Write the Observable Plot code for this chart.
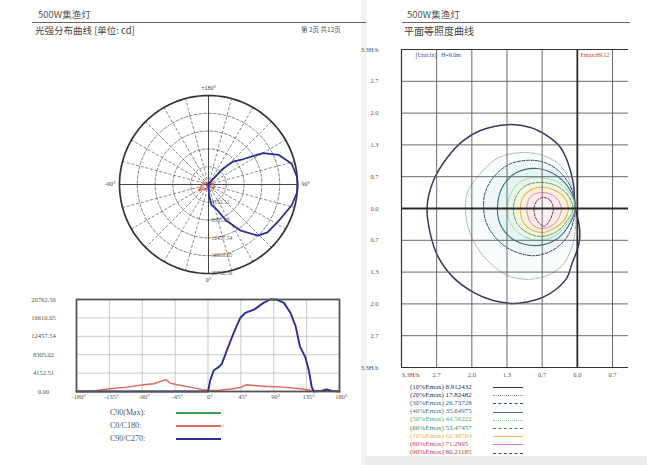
<!DOCTYPE html>
<html><head><meta charset="utf-8">
<script src="https://cdn.jsdelivr.net/npm/d3@7"></script>
<script src="https://cdn.jsdelivr.net/npm/@observablehq/plot@0.6"></script>
<style>
body{margin:0;background:#fff;}
#page{position:relative;width:647px;height:465px;overflow:hidden;background:#fff;font-family:"Liberation Serif",serif;color:#444;}
.abs{position:absolute;white-space:nowrap;line-height:1;}
.cjk{font-family:"Noto Sans CJK SC","Liberation Serif",serif;}
</style></head><body><div id="page"></div>
<script>
// ---------- DATA ----------
const angleTicks = [-180,-135,-90,-45,0,45,90,135,180];
const intensityTicks = [0, 4152.51, 8305.02, 12457.54, 16610.05, 20762.56];
const intensityLabels = ["0.00","4152.51","8305.02","12457.54","16610.05","20762.56"];

const c90c270Angles = [-180,-90,-30,0,3,8,15,19,26,35,44,51,63,76,85,90,95,104,113,120,126,133,138,142,145,155,162,170,180];
const c90c270Values = [0,0,0,0,2510,4790,5550,6310,9350,13160,16580,17720,18480,20000,20760,20762.56,20700,20000,17720,14680,10115,7830,4790,990,0,150,450,150,0];

const c0c180Angles = [-180,-165,-152,-134,-111,-88,-74,-61,-57,-52,-42,-24,-6,1,12,35,45,53,63,81,104,126,142,160,180];
const c0c180Values = [0,60,230,610,990,1520,1750,2510,2660,1900,1520,990,380,230,230,610,990,1520,1370,1140,990,610,230,80,0];

const seriesNames = ["C90(Max):","C0/C180:","C90/C270:"];

// isolux plane (units H/h)
const isoGridX = [-3.3,-2.64,-1.98,-1.32,-0.66,0,0.66];
const isoGridXLabels = ["3.3H/h","2.7","2.0","1.3","0.7","0.0","0.7"];
const isoGridY = [3.3,2.64,1.98,1.32,0.66,0,-0.66,-1.32,-1.98,-2.64,-3.3];
const isoGridYLabels = ["3.3H/h","2.7","2.0","1.3","0.7","0.0","0.7","1.3","2.0","2.7","3.3H/h"];

const iso10 = [[-2.82,0.03],[-2.70,0.58],[-2.44,1.06],[-2.14,1.41],[-1.82,1.62],[-1.30,1.74],[-0.88,1.68],[-0.57,1.51],[-0.32,1.27],[-0.17,0.93],[-0.075,0.52],[-0.04,0.03],[0.04,-0.39],[0.04,-0.66],[-0.006,-0.87],[-0.10,-1.14],[-0.19,-1.43],[-0.38,-1.66],[-0.64,-1.84],[-0.94,-1.94],[-1.20,-1.97],[-1.58,-1.91],[-1.95,-1.74],[-2.33,-1.43],[-2.61,-1.01],[-2.76,-0.52]];
const iso20 = [[-0.04,0.02],[-0.11,0.48],[-0.32,0.89],[-0.64,1.10],[-1.07,1.16],[-1.50,1.04],[-1.86,0.68],[-2.06,0.33],[-2.10,0.02],[-2.05,-0.39],[-1.88,-0.81],[-1.63,-1.14],[-1.31,-1.39],[-0.94,-1.47],[-0.56,-1.39],[-0.28,-1.18],[-0.11,-0.83],[-0.04,-0.46]];
const iso30 = [[-0.04,0.02],[-0.11,0.41],[-0.32,0.75],[-0.60,0.95],[-0.94,1.00],[-1.29,0.91],[-1.58,0.64],[-1.73,0.33],[-1.76,0.02],[-1.71,-0.29],[-1.54,-0.60],[-1.26,-0.85],[-0.83,-0.98],[-0.47,-0.87],[-0.21,-0.62],[-0.08,-0.29]];
const iso40 = [[-0.04,0.02],[-0.13,0.37],[-0.36,0.66],[-0.75,0.83],[-1.13,0.75],[-1.39,0.48],[-1.50,0.02],[-1.43,-0.37],[-1.18,-0.66],[-0.75,-0.77],[-0.39,-0.64],[-0.17,-0.37]];
const iso50 = [[-0.04,0.02],[-0.15,0.33],[-0.39,0.56],[-0.71,0.64],[-1.03,0.58],[-1.24,0.33],[-1.31,0],[-1.24,-0.33],[-1.03,-0.56],[-0.69,-0.66],[-0.38,-0.54],[-0.17,-0.29]];
const iso60 = [[-0.08,0],[-0.19,0.29],[-0.41,0.48],[-0.69,0.54],[-0.96,0.48],[-1.14,0.27],[-1.20,-0.02],[-1.13,-0.31],[-0.94,-0.50],[-0.68,-0.58],[-0.39,-0.48],[-0.19,-0.25]];
const iso70 = [[-0.17,0],[-0.26,0.25],[-0.45,0.39],[-0.68,0.44],[-0.90,0.37],[-1.03,0.21],[-1.07,-0.04],[-1.01,-0.29],[-0.86,-0.44],[-0.66,-0.50],[-0.43,-0.41],[-0.24,-0.23]];
const iso80 = [[-0.30,0],[-0.38,0.21],[-0.53,0.31],[-0.69,0.33],[-0.86,0.27],[-0.94,0.10],[-0.94,-0.10],[-0.88,-0.29],[-0.73,-0.41],[-0.54,-0.39],[-0.39,-0.27],[-0.32,-0.12]];
const iso90 = [[-0.45,0],[-0.51,0.17],[-0.64,0.23],[-0.75,0.17],[-0.81,0.02],[-0.79,-0.17],[-0.71,-0.31],[-0.62,-0.37],[-0.53,-0.27],[-0.47,-0.12]];

const isoPercents = ["10%","20%","30%","40%","50%","60%","70%","80%","90%"];
const isoValues = ["8.912432","17.82482","26.73728","35.64975","44.56222","53.47457","62.38704","71.2995","80.21185"];
const emax = "89.12";
const mountHeight = "9.0m";

// ---------- STYLES ----------
const serif = "Liberation Serif";
const seriesColors = ["#3f9a5e","#dd6a5c","#2e2e95"];
const isoStyles = [
  {stroke:"#38385c", w:1.5, dash:null, text:"#2e2e58", fill:null},
  {stroke:"#8c8c8c", w:0.8, dash:"1,1.4", text:"#34345c", fill:"#f8fcfc"},
  {stroke:"#3a4462", w:1.0, dash:"3,1.5", text:"#4a5a98", fill:"#edf7f8"},
  {stroke:"#3f6e7e", w:1.1, dash:null, text:"#3f7590", fill:"#e6f4f2"},
  {stroke:"#86cfa0", w:0.9, dash:"1,1.2", text:"#55b37a", fill:"#ebf6e8"},
  {stroke:"#3d8a63", w:0.9, dash:"3,1.5", text:"#3f8d67", fill:"#f4f6df"},
  {stroke:"#e6b453", w:1.1, dash:null, text:"#e2b256", fill:"#fcf3de"},
  {stroke:"#e58aa6", w:1.0, dash:null, text:"#d2465f", fill:"#fbeaee"},
  {stroke:"#6b3850", w:1.0, dash:"2.5,1.5", text:"#c23a55", fill:"#fbf0f2"}
];
const isoShapes = [iso10,iso20,iso30,iso40,iso50,iso60,iso70,iso80,iso90];

const page = document.getElementById("page");
function put(el, left, top){ el.style.position="absolute"; el.style.left=left+"px"; el.style.top=top+"px"; page.appendChild(el); return el; }
function txt(s, left, top, size, color, cls){ const d=document.createElement("div"); d.className="abs "+(cls||""); d.textContent=s; d.style.fontSize=size+"px"; d.style.color=color||"#444"; return put(d,left,top); }
function hline(left, top, width, style){ const d=document.createElement("div"); d.style.width=width+"px"; d.style.height="0"; d.style.borderTop=style; return put(d,left,top); }

// page edges (photo)
const gap = document.createElement("div"); gap.style.width="6px"; gap.style.height="465px"; gap.style.background="#f3f3f3"; put(gap,361,0);
const band = document.createElement("div"); band.style.width="282px"; band.style.height="9px"; band.style.background="#ededed"; put(band,365,456);

// headers
txt("500W集渔灯", 38, 10, 9.5, "#555", "cjk");
hline(32, 22, 334, "1px solid #666");
txt("光强分布曲线 [单位: cd]", 35, 25.5, 9.5, "#444", "cjk");
txt("第 2页 共12页", 301, 25.5, 6.5, "#555", "cjk");
txt("500W集渔灯", 407, 10, 9.5, "#555", "cjk");
hline(402, 22, 228, "1px solid #666");
txt("平面等照度曲线", 404, 25.5, 10, "#444", "cjk");

// ---------- POLAR ----------
const R = intensityTicks[intensityTicks.length-1];
const polarRpx = 89, polarSize = 220;
const pdom = R * (polarSize/2) / polarRpx;
const rad = a => a*Math.PI/180;
const px = (a,v) => v*Math.sin(rad(a));
const py = (a,v) => -v*Math.cos(rad(a));
const ringPts = [];
intensityTicks.slice(1).forEach((r,k)=>{ for(let a=0;a<=360;a+=3) ringPts.push({ring:k, x:px(a,r), y:py(a,r)}); });
const spokes = d3.range(0,360,15);
const bluePolar = c90c270Angles.map((a,i)=>({x:px(a,c90c270Values[i]), y:py(a,c90c270Values[i])}));
const redPolar = c0c180Angles.map((a,i)=>({x:px(a,c0c180Values[i]), y:py(a,c0c180Values[i])}));

const polar = Plot.plot({
  width: polarSize, height: polarSize, margin: 0,
  x:{domain:[-pdom,pdom], axis:null}, y:{domain:[-pdom,pdom], axis:null},
  style:{fontFamily:serif, background:"transparent", overflow:"visible"},
  marks:[
    Plot.line(ringPts.filter(d=>d.ring<4), {x:"x", y:"y", z:"ring", stroke:"#6a6a6a", strokeWidth:0.8, strokeDasharray:"3,1.8"}),
    Plot.link(spokes.filter(a=>a%90!==0), {x1:0, y1:0, x2:a=>px(a,R), y2:a=>py(a,R), stroke:"#6a6a6a", strokeWidth:0.8, strokeDasharray:"3,1.8"}),
    Plot.link(spokes.filter(a=>a%90===0), {x1:0, y1:0, x2:a=>px(a,R), y2:a=>py(a,R), stroke:"#333", strokeWidth:0.9}),
    Plot.line(ringPts.filter(d=>d.ring===4), {x:"x", y:"y", stroke:"#333", strokeWidth:1.7}),
    Plot.line(redPolar, {x:"x", y:"y", stroke:seriesColors[1], strokeWidth:1.6}),
    Plot.line(bluePolar, {x:"x", y:"y", stroke:seriesColors[2], strokeWidth:1.8}),
    Plot.text(intensityTicks.slice(1), {x:0, y:d=>-d, dx:3, textAnchor:"start", text:(d,i)=>intensityLabels[i+1], fontSize:5.5, fill:"#555"}),
    Plot.text(["±180°"], {x:0, y:R, dy:-7, text:d=>d, fontSize:6, fill:"#444"}),
    Plot.text(["0°"], {x:0, y:-R, dy:7, text:d=>d, fontSize:6, fill:"#444"}),
    Plot.text(["90°"], {x:R, y:0, dx:4, textAnchor:"start", text:d=>d, fontSize:6, fill:"#444"}),
    Plot.text(["-90°"], {x:-R, y:0, dx:-4, textAnchor:"end", text:d=>d, fontSize:6, fill:"#444"})
  ]
});
polar.style.overflow="visible";
put(polar, 208-polarSize/2, 184-polarSize/2);

// ---------- LINE CHART ----------
const blueLine = c90c270Angles.map((a,i)=>({a, v:c90c270Values[i]}));
const redLine = c0c180Angles.map((a,i)=>({a, v:c0c180Values[i]}));
const lc = Plot.plot({
  width:360, height:115, marginLeft:76, marginRight:21, marginTop:9, marginBottom:14,
  x:{domain:[-180,180], axis:null}, y:{domain:[0,R], axis:null},
  style:{fontFamily:serif, background:"transparent", overflow:"visible"},
  marks:[
    Plot.ruleX(angleTicks, {stroke:"#c4c4c4", strokeWidth:0.9}),
    Plot.ruleY(intensityTicks, {stroke:"#c4c4c4", strokeWidth:0.9}),
    Plot.line(redLine, {x:"a", y:"v", stroke:seriesColors[1], strokeWidth:1.4}),
    Plot.line(blueLine, {x:"a", y:"v", stroke:seriesColors[2], strokeWidth:1.9}),
    Plot.frame({stroke:"#555", strokeWidth:1.8}),
    Plot.text(angleTicks, {x:d=>d, frameAnchor:"bottom", dy:7, dx:2, text:d=>d+"°", fontSize:6.5, fill:"#555"}),
    Plot.text(intensityTicks, {y:d=>d, frameAnchor:"left", dx:-33, textAnchor:"middle", text:(d,i)=>intensityLabels[i], fontSize:6.5, fill:"#555"})
  ]
});
lc.style.overflow="visible";
put(lc, 0, 290);

// legend left
seriesNames.forEach((s,i)=>{
  txt(s, 110, 409 + i*13, 8, "#555");
  hline(176, 412 + i*13, 45, "2px solid "+seriesColors[i]);
});

// ---------- ISOLUX ----------
const isoMarks = [];
isoShapes.forEach((shape,i)=>{
  const st = isoStyles[i];
  if (st.fill) isoMarks.push(Plot.line(shape, {x:d=>d[0], y:d=>d[1], curve:"catmull-rom-closed", fill:st.fill, stroke:"none"}));
});
isoShapes.forEach((shape,i)=>{
  const st = isoStyles[i];
  const o = {x:d=>d[0], y:d=>d[1], curve:"catmull-rom-closed", stroke:st.stroke, strokeWidth:st.w};
  if (st.dash) o.strokeDasharray = st.dash;
  isoMarks.push(Plot.line(shape, o));
});
const iso = Plot.plot({
  width:300, height:345, marginLeft:61, marginRight:12, marginTop:9, marginBottom:18,
  x:{domain:[-3.3,0.96], axis:null}, y:{domain:[-3.3,3.3], axis:null},
  style:{fontFamily:serif, background:"transparent", overflow:"visible"},
  marks:[
    ...isoMarks,
    Plot.ruleX(isoGridX.filter(d=>d!==0), {stroke:"#5a5a5a", strokeWidth:0.9}),
    Plot.ruleY(isoGridY.filter(d=>d!==0), {stroke:"#5a5a5a", strokeWidth:0.9}),
    Plot.ruleX([0], {stroke:"#2a2a2a", strokeWidth:1.8}),
    Plot.ruleY([0], {stroke:"#2a2a2a", strokeWidth:1.8}),
    Plot.ruleX([-3.3], {stroke:"#333", strokeWidth:1.2}),
    Plot.ruleY([3.3,-3.3], {stroke:"#333", strokeWidth:1.2}),
    Plot.text(isoGridY, {x:-3.3, y:d=>d, dx:-23, textAnchor:"end", text:(d,i)=>isoGridYLabels[i], fontSize:6.5, fill:"#555"}),
    Plot.text(isoGridX.slice(0,1), {x:d=>d, y:-3.3, dy:7, textAnchor:"start", text:(d,i)=>isoGridXLabels[i], fontSize:6.5, fill:"#555"}),
    Plot.text(isoGridX.slice(1), {x:d=>d, y:-3.3, dy:7, text:(d,i)=>isoGridXLabels[i+1], fontSize:6.5, fill:"#555"}),
    Plot.text(["[Unit:lx]   H=" + mountHeight], {x:-3.3, y:3.3, dx:14, dy:6, textAnchor:"start", text:d=>d, fontSize:6, fill:"#3a4aa8"}),
    Plot.text(["Emax:" + emax], {x:0, y:3.3, dx:3, dy:6, textAnchor:"start", text:d=>d, fontSize:6, fill:"#d23c3c"})
  ]
});
iso.style.overflow="visible";
put(iso, 340, 40);

// legend right
isoPercents.forEach((p,i)=>{
  const st = isoStyles[i];
  txt("("+p+"Emax) "+isoValues[i], 410, 383.5 + i*8.2, 7, st.text);
  const style = (st.dash ? (st.dash.startsWith("1,") ? "dotted" : "dashed") : "solid");
  hline(493, 387 + i*8.2, 30, (st.w>1.2?1.5:1.2)+"px "+style+" "+st.stroke);
});
</script></body></html>
